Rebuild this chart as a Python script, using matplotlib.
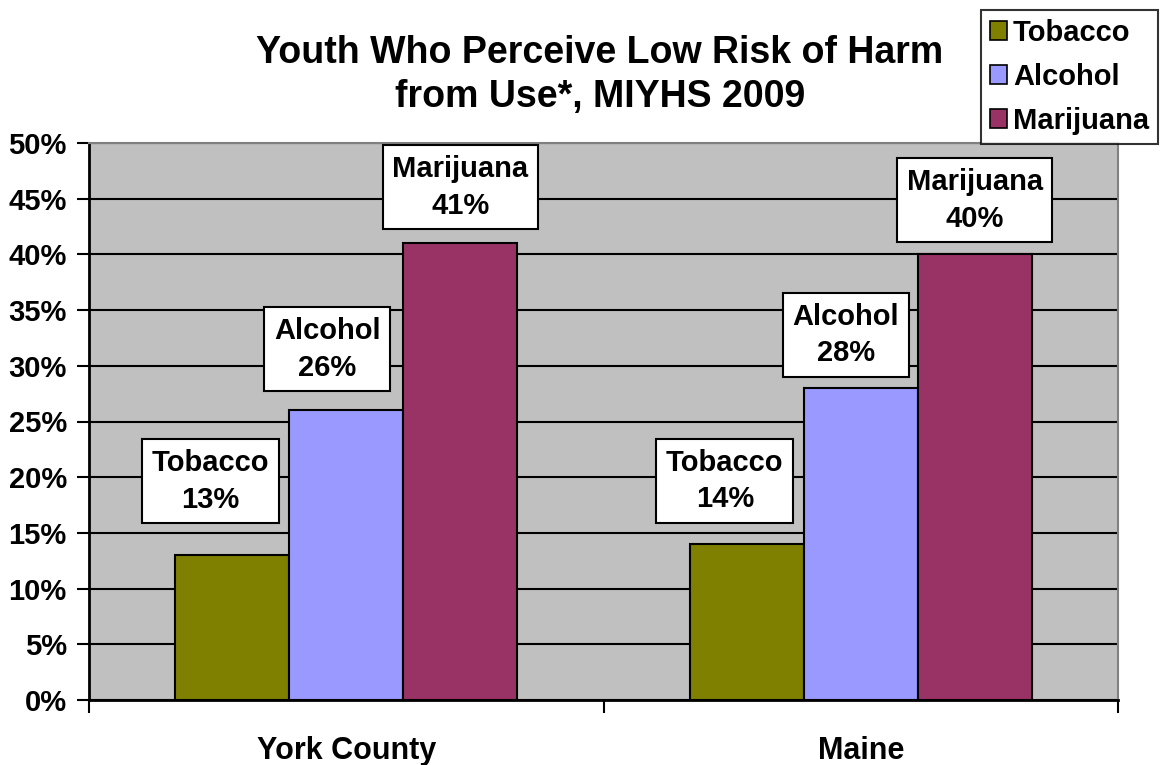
import matplotlib
matplotlib.use("Agg")
import matplotlib.pyplot as plt
from matplotlib.patches import Patch
import numpy as np

# ---- data ----
categories = ["York County", "Maine"]
series_names = ["Tobacco", "Alcohol", "Marijuana"]
tobacco = [13, 14]
alcohol = [26, 28]
marijuana = [41, 40]
yticks = [0, 5, 10, 15, 20, 25, 30, 35, 40, 45, 50]
title = "Youth Who Perceive Low Risk of Harm\nfrom Use*, MIYHS 2009"

# ---- styles / layout ----
colors = ["#808000", "#9999FF", "#993366"]
# label box offsets (pixels) relative to each bar's top-center: [series][category]
label_offsets = [
    [(-22, 74), (-22, 63)],
    [(-19, 61), (-15, 53)],
    [(0, 56), (0, 54)],
]

plt.rcParams['font.family'] = ['Liberation Sans', 'DejaVu Sans']

fig = plt.figure(figsize=(11.69, 7.65), dpi=100)
W, H = 1169, 765
ax = fig.add_axes([89 / W, 1 - 700 / H, (1118 - 89) / W, (700 - 143) / H])
ax.set_facecolor("#C0C0C0")

x = np.arange(len(categories))
width = 114 / 514.5
all_series = [tobacco, alcohol, marijuana]
for i, (name, vals) in enumerate(zip(series_names, all_series)):
    xs = x + (i - 1) * width
    ax.bar(xs, vals, width=width, color=colors[i], edgecolor="black",
           linewidth=1.5, zorder=3)
    for j, (xx, v) in enumerate(zip(xs, vals)):
        dx, dy = label_offsets[i][j]
        ax.annotate(f"{name}\n{v}%", xy=(xx, v), xycoords="data",
                    xytext=(dx, dy), textcoords="offset pixels",
                    ha="center", va="center", fontsize=21, fontweight="bold",
                    linespacing=1.4, zorder=5,
                    bbox=dict(boxstyle="square,pad=0.33", fc="white",
                              ec="black", lw=1.5))

ax.set_xlim(-0.5, 1.5)
ax.set_ylim(0, 50)
ax.set_yticks(yticks)
ax.set_yticklabels([f"{t}%" for t in yticks], fontsize=21, fontweight="bold")
ax.yaxis.grid(True, color="black", linewidth=1.5, zorder=0)
ax.set_axisbelow(True)

ax.set_xticks(x)
ax.set_xticklabels(categories, fontsize=22, fontweight="bold")
ax.tick_params(axis="x", which="major", length=0, pad=26)
ax.set_xticks([-0.5, 0.5, 1.5], minor=True)
ax.tick_params(axis="x", which="minor", length=9, width=1.5, direction="out")
ax.tick_params(axis="y", length=9, width=1.5, direction="out", pad=7)

for s in ["left", "bottom"]:
    ax.spines[s].set_color("black")
    ax.spines[s].set_linewidth(2)
for s in ["top", "right"]:
    ax.spines[s].set_color("#808080")
    ax.spines[s].set_linewidth(1.5)

fig.text(600 / W, 1 - 75 / H, title, ha="center", va="center",
         fontsize=27, fontweight="bold", linespacing=1.3)

handles = [Patch(facecolor=c, edgecolor="black", linewidth=1.2) for c in colors]
leg = fig.legend(handles, series_names, loc="upper left",
                 bbox_to_anchor=(981 / W, 1 - 10 / H),
                 bbox_transform=fig.transFigure,
                 prop={"size": 21, "weight": "bold"},
                 frameon=True, fancybox=False, borderpad=0.3,
                 handlelength=0.6, handleheight=0.6, handletextpad=0.2,
                 labelspacing=0.55, borderaxespad=0)
leg.get_frame().set_edgecolor("black")
leg.get_frame().set_linewidth(1.5)
leg.set_zorder(10)

fig.savefig("out.png", dpi=100, facecolor="white")
